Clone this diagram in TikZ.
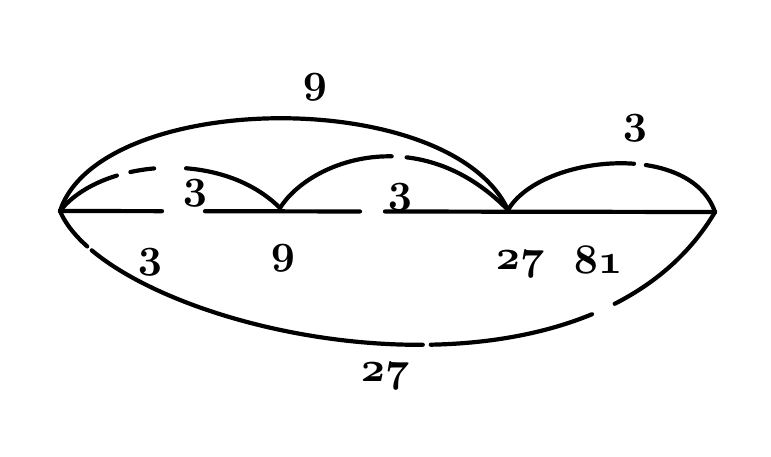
\documentclass[tikz,border=0pt]{standalone}
\usepackage{fontspec}
\usepackage{tikz}
\tikzset{
  printline/.style={line width=4.2pt, line cap=round},
  numeral/.style={font=\usefont{OML}{cmm}{b}{it}, inner sep=0pt, scale=4.2}
}
\begin{document}
\begin{tikzpicture}[x=1pt, y=-1pt]
			%%%%% START %%%%%
			\useasboundingbox (0, 0) rectangle (771, 456);
			
			\coordinate (A) at (60, 211);
			\coordinate (B) at (280, 208);
			\coordinate (C) at (508, 210);
			\coordinate (D) at (715, 212);
			
			% straight line
			\draw[printline, dash pattern=on 102pt off 43pt on 155pt off 25pt on 400pt] (A) -- (D);
			
			% arcs above
			\draw[printline] (A) .. controls (100, 90) and (450, 85) .. (C);
			\draw[printline, dash pattern=on 68pt off 14pt on 24pt off 32pt on 200pt] (A) .. controls (100, 160) and (220, 148) .. (B);
			\draw[printline, dash pattern=on 128pt off 15pt on 200pt] (B) .. controls (310, 160) and (420, 120) .. (C);
			\draw[printline, dash pattern=on 140pt off 12pt on 200pt] (C) .. controls (540, 155) and (690, 140) .. (D);
			
			% arc below
			\draw[printline, dash pattern=on 45pt off 6pt on 350pt off 8pt on 165pt off 25pt on 300pt] (A) .. controls (110, 330) and (580, 440) .. (D);
			
			\node[numeral] (n9top) at (315, 87) {9};
			\node[numeral] (n3ab) at (195, 193) {3};
			\node[numeral] (n3bc) at (400, 197) {3};
			\node[numeral] (n3cd) at (635, 128) {3};
			\node[numeral] (n3) at (150, 262) {3};
			\node[numeral] (n9) at (283, 258) {9};
			\node[numeral] (n27) at (520, 264) {27};
			\node[numeral] (n81) at (598, 260) {81};
			\node[numeral] (n27low) at (385, 376) {27};
			
			%%%%% END %%%%%
\end{tikzpicture}
\end{document}
